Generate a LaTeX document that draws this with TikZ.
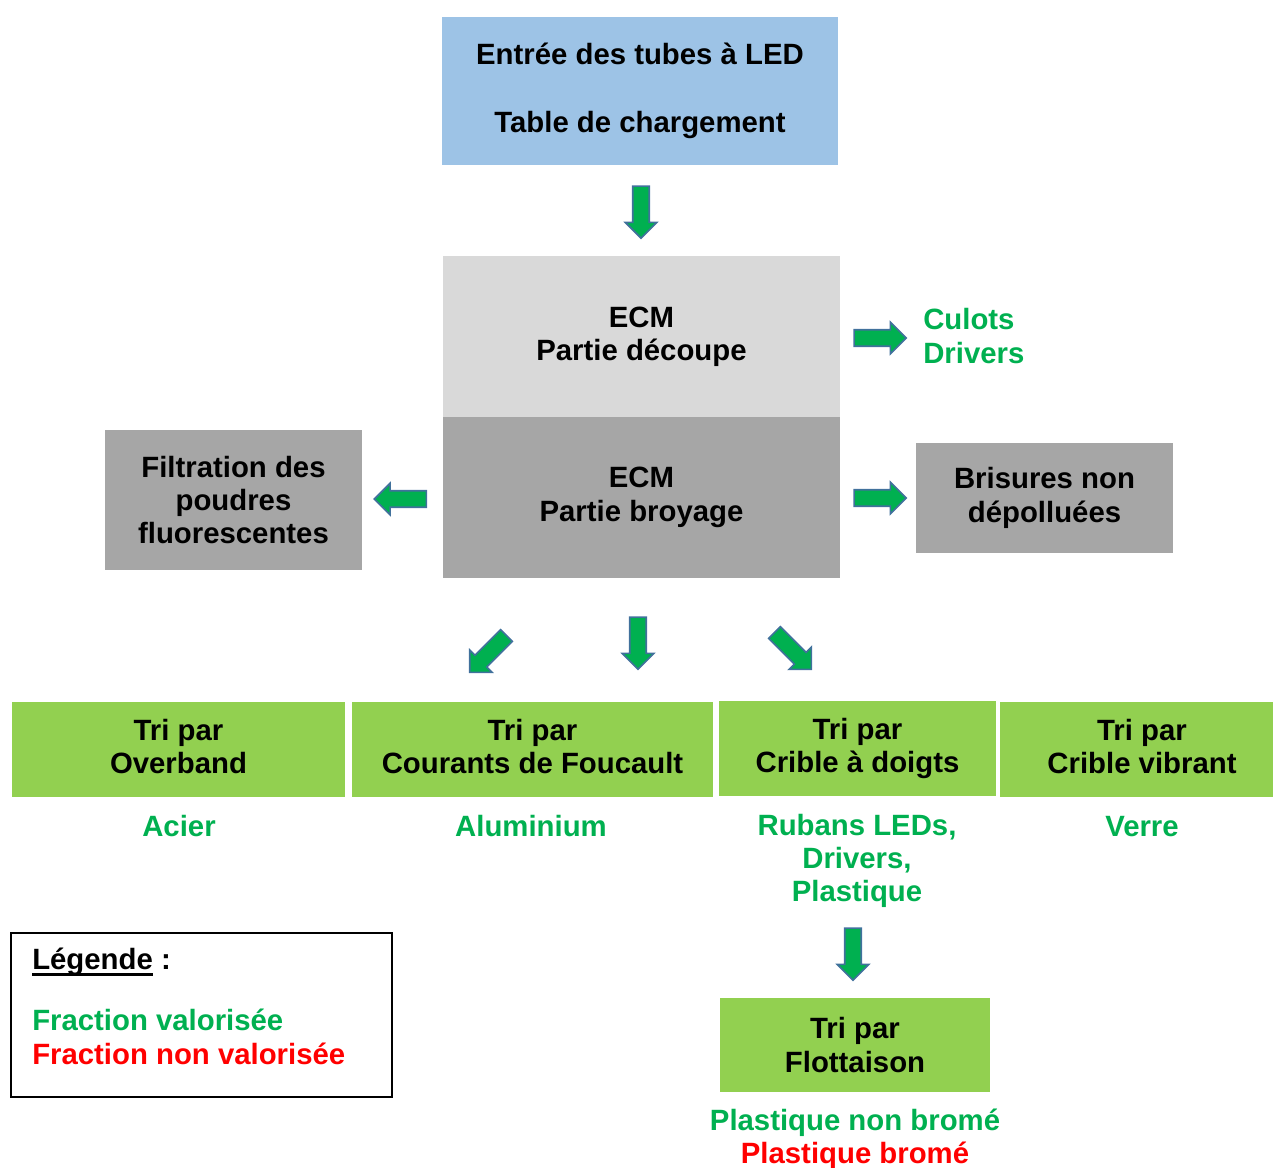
\documentclass[tikz,border=0pt]{standalone}
\usepackage{fontspec}
\setmainfont{Liberation Sans}
\usetikzlibrary{shapes.arrows}

\definecolor{bleuclair}{HTML}{9DC3E6}
\definecolor{grisclair}{HTML}{D9D9D9}
\definecolor{grisfonce}{HTML}{A6A6A6}
\definecolor{vertboite}{HTML}{92D050}
\definecolor{vert}{HTML}{00B050}
\definecolor{rouge}{HTML}{FF0000}
\definecolor{bordfleche}{HTML}{41719C}

% soulignement epais
\newcommand\souligne[1]{\setbox0\hbox{#1}\rlap{\rule[-4.5pt]{\wd0}{2pt}}\box0\relax}

\tikzset{
  txt/.style={font=\bfseries\fontsize{22}{25}\selectfont, align=center, inner sep=0pt},
  boite/.style={txt, rectangle, fill=#1},
  fleche/.style={single arrow, draw=bordfleche, fill=vert, line width=1.2pt,
    minimum height=39pt, inner xsep=0pt, inner ysep=5.6pt, single arrow head extend=5.6pt},
}

\begin{document}
\begin{tikzpicture}[x=0.75pt, y=-0.75pt]
    \useasboundingbox (0,0) rectangle (1273,1167);

    % Entree
    \node[boite=bleuclair, minimum width=297pt, minimum height=111pt] (entree) at (640,91)
        {Entrée des tubes à LED\\[26pt]Table de chargement};
    \node[fleche, rotate=-90] (f-entree) at (641,208) {};

    % ECM
    \node[boite=grisclair, minimum width=297.75pt, minimum height=120.75pt] (decoupe) at (641.5,336.5)
        {ECM\\Partie découpe};
    \node[boite=grisfonce, minimum width=297.75pt, minimum height=120.75pt] (broyage) at (641.5,497.5)
        {ECM\\Partie broyage};

    % sorties laterales
    \node[fleche] (f-culots) at (876,338) {};
    \node[txt, anchor=west, align=left, text=vert] (culots) at (923,336) {Culots\\Drivers};
    \node[fleche] (f-brisures) at (876,498) {};
    \node[boite=grisfonce, minimum width=192.75pt, minimum height=82.5pt] (brisures) at (1044.5,498)
        {Brisures non\\dépolluées};
    \node[fleche, rotate=180] (f-filtration) at (404.5,499) {};
    \node[boite=grisfonce, minimum width=192.75pt, minimum height=105pt] (filtration) at (233.5,500)
        {Filtration des\\poudres\\fluorescentes};

    % vers les tris
    \node[fleche, rotate=-135] (f-gauche) at (491,651) {};
    \node[fleche, rotate=-90] (f-milieu) at (638,639) {};
    \node[fleche, rotate=-45] (f-droite) at (790,648) {};

    % Tris
    \node[boite=vertboite, minimum width=249.75pt, minimum height=71.25pt] (overband) at (178.5,749.5)
        {Tri par\\Overband\rule[-5pt]{0pt}{5pt}};
    \node[boite=vertboite, minimum width=270.75pt, minimum height=71.25pt] (foucault) at (532.5,749.5)
        {Tri par\\Courants de Foucault\rule[-5pt]{0pt}{5pt}};
    \node[boite=vertboite, minimum width=207.75pt, minimum height=71.25pt] (doigts) at (857.5,748.5)
        {Tri par\\Crible à doigts\rule[-5pt]{0pt}{5pt}};
    \node[boite=vertboite, minimum width=213pt, minimum height=71.25pt] (vibrant) at (1142,749.5)
        {Tri par\\Crible vibrant\rule[-5pt]{0pt}{5pt}};

    % fractions
    \node[txt, text=vert] (acier) at (179,826) {Acier};
    \node[txt, text=vert] (alu) at (531,826) {Aluminium};
    \node[txt, text=vert] (rubans) at (857,861) {Rubans LEDs,\\Drivers,\\Plastique};
    \node[txt, text=vert] (verre) at (1142,827) {Verre};

    % Flottaison
    \node[fleche, rotate=-90] (f-flottaison) at (853,950) {};
    \node[boite=vertboite, minimum width=202.5pt, minimum height=70.5pt] (flottaison) at (855,1045)
        {Tri par\\Flottaison};
    \node[txt] (plastiques) at (855,1139)
        {\textcolor{vert}{Plastique non bromé}\\\textcolor{rouge}{Plastique bromé}};

    % Legende
    \node[draw, line width=1.2pt, minimum width=285.75pt, minimum height=123pt, inner sep=0pt] (legende) at (201.5,1015) {};
    \node[txt, anchor=west] (legtitre) at (32,962) {\souligne{Légende} :};
    \node[txt, anchor=west, align=left] (legtexte) at (32,1037)
        {\textcolor{vert}{Fraction valorisée}\\\textcolor{rouge}{Fraction non valorisée}};
\end{tikzpicture}
\end{document}
